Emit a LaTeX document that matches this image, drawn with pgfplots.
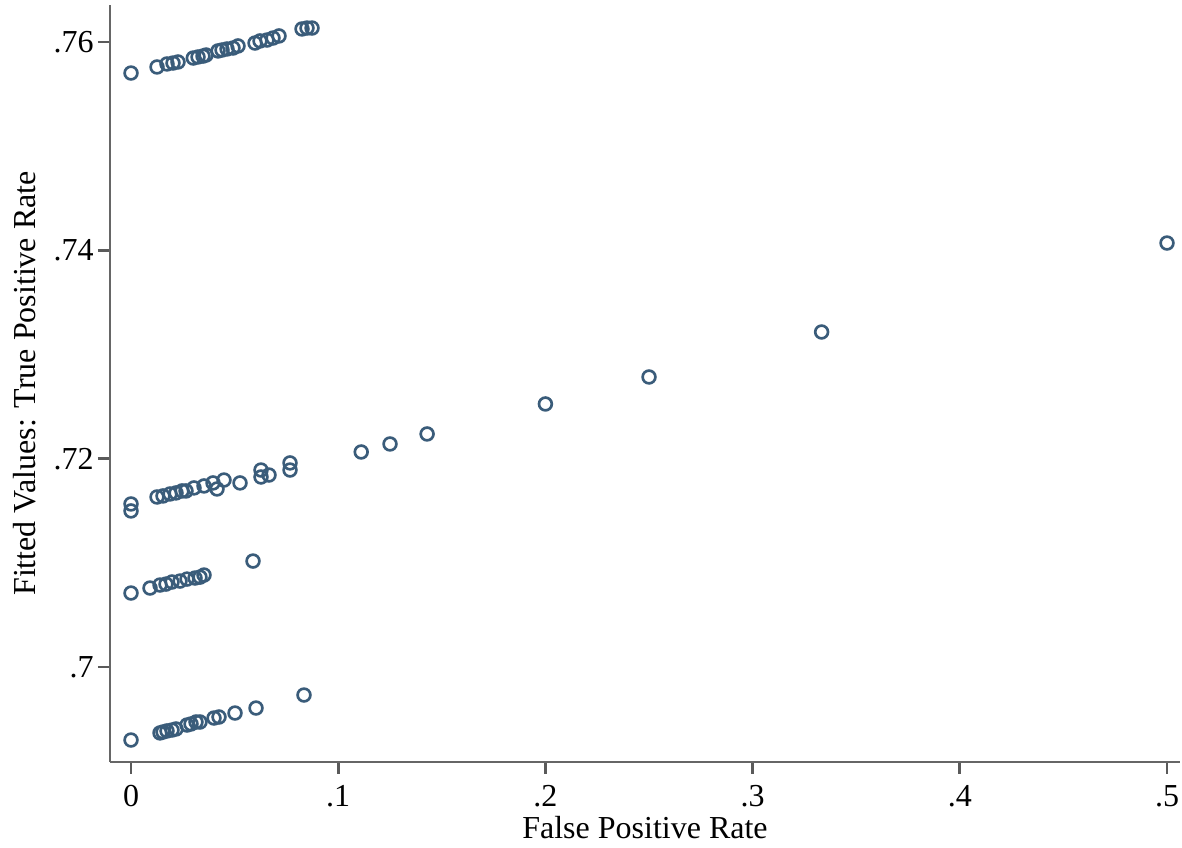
\documentclass[border=0pt]{standalone}
\usepackage{pgfplots}
\pgfplotsset{compat=1.18}
\usepackage{fontspec}
\setmainfont{Liberation Serif}
\definecolor{mk}{RGB}{58,92,122}
\definecolor{tk}{RGB}{90,90,90}
\begin{document}
\begin{tikzpicture}[font=\fontsize{24}{28}\selectfont]
\begin{axis}[
  scale only axis,
  width=802.5pt, height=567.75pt,
  xmin=-0.01014, xmax=0.50627,
  ymin=0.69088, ymax=0.763552,
  axis x line=bottom, axis y line=left,
  axis line style={draw=black!60, line width=1.2pt, -},
  every tick/.append style={tk, line width=2pt},
  xtick align=outside, ytick align=outside,
  major tick length=9pt,
  xtick={0,0.1,0.2,0.3,0.4,0.5},
  xticklabels={0,.1,.2,.3,.4,.5},
  ytick={0.70,0.72,0.74,0.76},
  yticklabels={.7,.72,.74,.76},
  xticklabel style={anchor=north, inner sep=0pt, yshift=-8.5pt, black},
  yticklabel style={anchor=east, inner sep=0pt, xshift=-3pt, black},
  xlabel={False Positive Rate},
  ylabel={Fitted Values: True Positive Rate},
  xlabel style={at={(axis description cs:0.5,-0.0872)}, anchor=center, inner sep=0pt},
  ylabel style={at={(axis description cs:-0.0794,0.5)}, anchor=center, inner sep=0pt},
]
\addplot[only marks, mark=o, mark size=4.8pt, mark options={draw=mk, line width=2pt}] coordinates {
(0,0.75702) (0.01255,0.7576) (0.01737,0.75789) (0.02027,0.75798) (0.02268,0.75808)
(0.03006,0.75846) (0.03234,0.75856) (0.03475,0.75865) (0.0362,0.75875)
(0.04199,0.75914) (0.04392,0.75923) (0.04633,0.75933) (0.04923,0.75942) (0.05164,0.75962)
(0.05985,0.7599) (0.06226,0.7601) (0.06564,0.76019) (0.06853,0.76038) (0.07143,0.76058)
(0.08253,0.76125) (0.08494,0.76134) (0.08736,0.76134)
(0,0.71565) (0,0.71498) (0.01255,0.71632) (0.01544,0.71642) (0.01882,0.71661)
(0.02172,0.71671) (0.02461,0.7169) (0.02654,0.7169) (0.03041,0.71719) (0.03523,0.71738)
(0.03958,0.71767) (0.04151,0.71709) (0.04488,0.71795) (0.05261,0.71767)
(0.06274,0.71891) (0.06274,0.71824) (0.0666,0.71843) (0.07674,0.71959) (0.07674,0.71891)
(0.1111,0.72064) (0.125,0.72141) (0.1429,0.72237) (0.2,0.72525) (0.25,0.72784)
(0.3333,0.73216) (0.5,0.7407)
(0,0.7071) (0.00917,0.70758) (0.014,0.70787) (0.01689,0.70796) (0.01979,0.70816)
(0.02365,0.70825) (0.02703,0.70844) (0.03089,0.70854) (0.0333,0.70863) (0.03523,0.70883)
(0.05888,0.71017)
(0,0.69299) (0.014,0.69367) (0.01544,0.69376) (0.01737,0.69386) (0.01979,0.69395)
(0.02172,0.69405) (0.02703,0.69443) (0.02896,0.69453) (0.03137,0.69472) (0.0333,0.69472)
(0.04006,0.6951) (0.04247,0.6952) (0.05019,0.69558) (0.06033,0.69606) (0.08349,0.69731)
};
\end{axis}
\pgfresetboundingbox
\path (-82.5pt,-64.5pt) rectangle (804pt,571.5pt);
\end{tikzpicture}
\end{document}
